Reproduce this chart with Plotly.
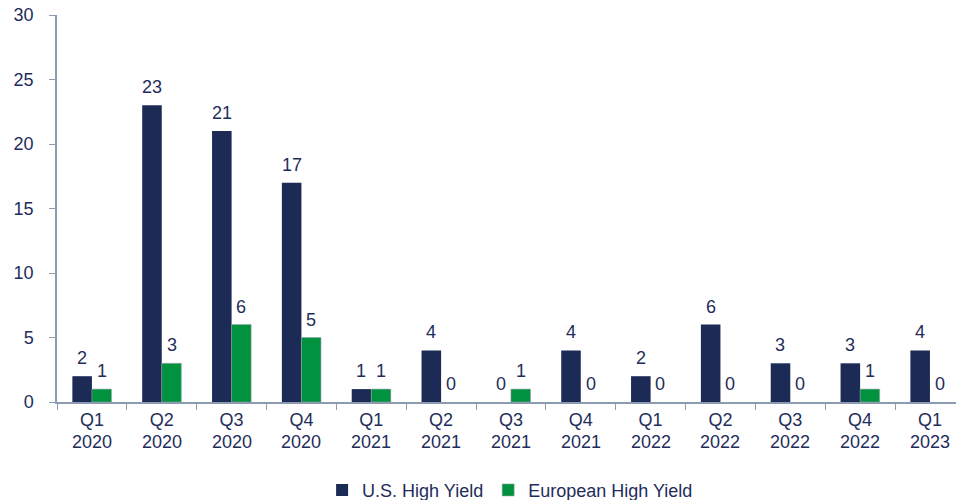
import plotly.graph_objects as go

quarters = ["Q1", "Q2", "Q3", "Q4", "Q1", "Q2", "Q3", "Q4", "Q1", "Q2", "Q3", "Q4", "Q1"]
years = ["2020", "2020", "2020", "2020", "2021", "2021", "2021", "2021",
         "2022", "2022", "2022", "2022", "2023"]
us_high_yield = [2, 23, 21, 17, 1, 4, 0, 4, 2, 6, 3, 3, 4]
eu_high_yield = [1, 3, 6, 5, 1, 0, 1, 0, 0, 0, 0, 1, 0]

categories = [f"{q} {y}" for q, y in zip(quarters, years)]

NAVY = "#1C2A56"
GREEN = "#00923F"
TEXT = "#1F2D5A"
AXIS = "#8C9BB0"
FONT = "Liberation Sans, Arial, sans-serif"
FS = 18

fig = go.Figure()
fig.add_trace(go.Bar(
    x=categories, y=us_high_yield, name="U.S. High Yield",
    marker=dict(color=NAVY, line=dict(width=0)),
))
fig.add_trace(go.Bar(
    x=categories, y=eu_high_yield, name="European High Yield",
    marker=dict(color=GREEN,
                line=dict(width=[0.8 if v > 0 else 0 for v in eu_high_yield],
                          color="rgba(150,160,170,0.7)")),
))

annotations = []
# value labels above each bar
for cat, v in zip(categories, us_high_yield):
    annotations.append(dict(x=cat, y=v, xref="x", yref="y", text=str(v),
                            showarrow=False, xshift=-9.8, yshift=18,
                            yanchor="middle", font=dict(size=FS, color=TEXT)))
for cat, v in zip(categories, eu_high_yield):
    annotations.append(dict(x=cat, y=v, xref="x", yref="y", text=str(v),
                            showarrow=False, xshift=9.8, yshift=18,
                            yanchor="middle", font=dict(size=FS, color=TEXT)))
# year row under the quarter tick labels
for cat, yr in zip(categories, years):
    annotations.append(dict(x=cat, y=0, xref="x", yref="y", text=yr,
                            showarrow=False, yshift=-40, yanchor="middle",
                            font=dict(size=FS, color=TEXT)))

fig.update_layout(
    width=956, height=500,
    margin=dict(l=57, r=0, t=15, b=98, autoexpand=False),
    paper_bgcolor="white", plot_bgcolor="white",
    font=dict(family=FONT, size=FS, color=TEXT),
    barmode="group", bargap=0.44, bargroupgap=0,
    showlegend=True,
    legend=dict(orientation="h", x=0.504, xanchor="center", y=-0.228,
                yanchor="middle", font=dict(size=FS, color=TEXT),
                itemwidth=30, traceorder="normal"),
    annotations=annotations,
)

fig.update_xaxes(
    type="category", range=[-0.5, 12.373],
    tickmode="array", tickvals=categories, ticktext=quarters,
    tickson="boundaries", ticks="outside", ticklen=6, tickcolor=AXIS,
    showline=True, linecolor=AXIS, linewidth=1.5,
    showgrid=False, tickfont=dict(size=FS, color=TEXT),
    ticklabelstandoff=1,
)
fig.update_yaxes(
    range=[0, 30], dtick=5, ticks="outside", ticklen=6, tickcolor=AXIS,
    showline=True, linecolor=AXIS, linewidth=1.5,
    showgrid=False, zeroline=False, ticklabelstandoff=12,
    tickfont=dict(size=FS, color=TEXT),
)

fig.write_html("out.html")
